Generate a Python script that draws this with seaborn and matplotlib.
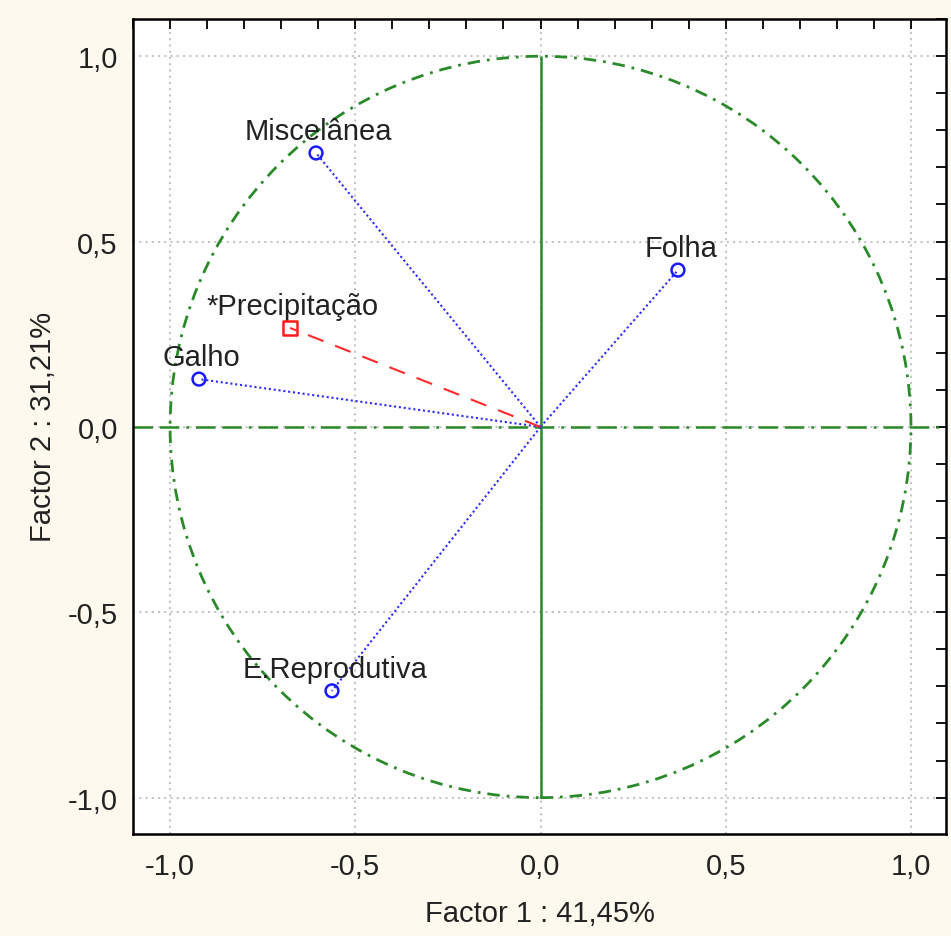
import matplotlib
matplotlib.use("Agg")
import matplotlib.pyplot as plt
from matplotlib.patches import Circle
from matplotlib.ticker import MultipleLocator, FuncFormatter
import pandas as pd
import seaborn as sns

# cargas das variaveis (Factor 1, Factor 2)
variaveis = ['Miscelânea', 'Folha', 'Galho', 'E.Reprodutiva']
factor1 = [-0.606, 0.371, -0.922, -0.563]
factor2 = [0.739, 0.423, 0.129, -0.712]

# variavel suplementar
sup_nome = ['*Precipitação']
sup_f1 = [-0.676]
sup_f2 = [0.267]

xlabel = 'Factor 1 : 41,45%'
ylabel = 'Factor 2 : 31,21%'

sns.set_style('white')
plt.rcParams['font.family'] = ['Liberation Sans', 'DejaVu Sans']
plt.rcParams['lines.scale_dashes'] = False

verde = '#2a8a2a'
fundo = '#fdf9ee'
texto = '#222222'

df = pd.DataFrame({'nome': variaveis, 'f1': factor1, 'f2': factor2})
df_sup = pd.DataFrame({'nome': sup_nome, 'f1': sup_f1, 'f2': sup_f2})

fig = plt.figure(figsize=(9.51, 9.37), dpi=100, facecolor=fundo)
ax = fig.add_axes([0.1399, 0.1089, 0.855, 0.870])
ax.set_facecolor('white')

ax.set_xlim(-1.1, 1.095)
ax.set_ylim(-1.098, 1.101)

# grelha pontilhada
ax.xaxis.set_major_locator(MultipleLocator(0.5))
ax.yaxis.set_major_locator(MultipleLocator(0.5))
ax.xaxis.set_minor_locator(MultipleLocator(0.1))
ax.yaxis.set_minor_locator(MultipleLocator(0.1))
ax.grid(True, which='major', color='#b8b8b8', ls=(0, (1.5, 3)), lw=1.2)

# circulo unitario e eixos
ax.add_patch(Circle((0, 0), 1, fill=False, ec=verde, lw=2,
                    ls=(0, (9, 5, 2, 5))))
ax.axhline(0, color=verde, lw=1.8, ls=(0, (14, 5, 14, 5, 2, 5)))
ax.vlines(0, -1, 1, color=verde, lw=1.8)

# vectores
for _, r in df.iterrows():
    ax.plot([0, r.f1], [0, r.f2], color='#2a2aff', lw=1.5, ls=(0, (1.5, 2)))
for _, r in df_sup.iterrows():
    ax.plot([0, r.f1], [0, r.f2], color='#ff2a2a', lw=1.5, ls=(0, (12, 9)))

sns.scatterplot(data=df, x='f1', y='f2', marker='o', s=85, facecolor='none',
                edgecolor='#1a1aff', linewidth=1.8, ax=ax, zorder=5)
sns.scatterplot(data=df_sup, x='f1', y='f2', marker='s', s=95, facecolor='none',
                edgecolor='#ff1a1a', linewidth=1.8, ax=ax, zorder=5)

for d in (df, df_sup):
    for _, r in d.iterrows():
        ax.annotate(r.nome, (r.f1, r.f2), xytext=(2, 6), textcoords='offset points',
                    ha='center', va='bottom', fontsize=21, color=texto)

fmt = FuncFormatter(lambda v, p: f'{v:.1f}'.replace('.', ','))
ax.xaxis.set_major_formatter(fmt)
ax.yaxis.set_major_formatter(fmt)
ax.tick_params(which='both', direction='in', top=True, right=True,
               length=7, width=1.3, color='black', labelsize=21,
               labelcolor=texto)
ax.tick_params(axis='x', pad=13)
ax.tick_params(axis='y', pad=11)

for s in ax.spines.values():
    s.set_color('black')
    s.set_linewidth(1.8)

ax.set_xlabel(xlabel, fontsize=21, labelpad=14, color=texto)
ax.set_ylabel(ylabel, fontsize=21, labelpad=8, color=texto)

fig.savefig('out.png', dpi=100, facecolor=fundo)
